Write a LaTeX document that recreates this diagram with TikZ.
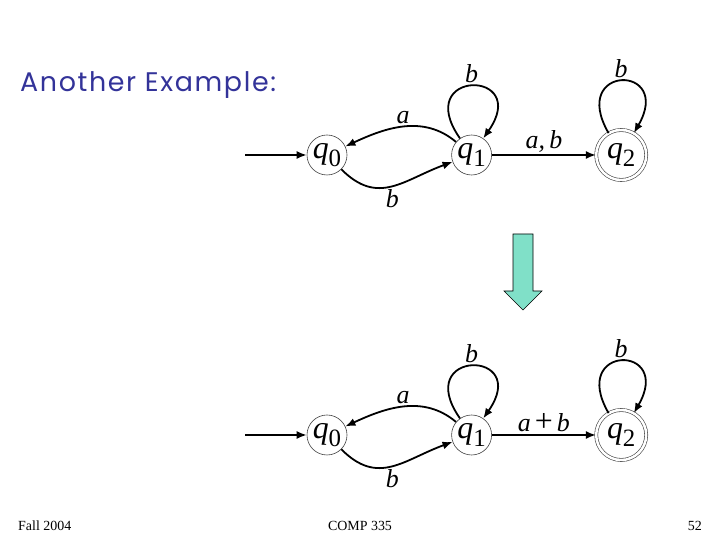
\documentclass[tikz,border=0pt]{standalone}
\usepackage{fontspec}
\setmainfont{Liberation Serif}
\newfontfamily\titlefont[LetterSpace=6]{Poppins}
\usepackage{xcolor}
\usepackage{tikz}
\usetikzlibrary{arrows.meta,positioning}
\definecolor{titleblue}{HTML}{333399}
\definecolor{arrowgreen}{HTML}{80E0C8}
\newcommand{\stq}[1]{\textit{q}\raisebox{-8bp}{\fontsize{25}{25}\selectfont #1}}
\tikzset{
  stt/.style={circle, draw=black!75, line width=.6bp, minimum size=40bp, inner sep=0pt, font=\fontsize{32}{34}\selectfont},
  acc/.style={stt, double, double distance=2.5bp, minimum size=50bp},
  ar/.style={-{Latex[length=10bp,width=8bp]}, line width=1.8bp},
  lbl/.style={font=\fontsize{26}{28}\selectfont\itshape, inner sep=2bp},
  foot/.style={font=\fontsize{14}{15}\selectfont, inner sep=0pt},
}
\begin{document}
\begin{tikzpicture}[x=1bp, y=1bp, node distance=104bp]
    \useasboundingbox (0,0) rectangle (720,540);
    \node[anchor=base west, inner sep=0pt, text=titleblue, font=\titlefont\fontsize{27}{29}\selectfont] (title) at (20,448) {Another Example:};
    % before
    \node[stt] (q0) at (327,385) {\stq{0}};
    \node[stt, right=of q0] (q1) {\stq{1}};
    \node[acc, right=of q1] (q2) {\stq{2}};
    \coordinate (s0) at (245,385);
    \draw[ar] (s0) -- (q0);
    \draw[ar] (q1) to[out=140, in=25] node[lbl, above] {a} (q0);
    \draw[ar] (q0) to[out=-45, in=-160, looseness=1.2] node[lbl, below] {b} (q1);
    \draw[ar] (q1) to[out=125, in=55, distance=85bp] node[lbl, above] {b} (q1);
    \draw[ar] (q1) -- node[lbl, above] {a,\,b} (q2);
    \draw[ar] (q2) to[out=120, in=60, distance=80bp] node[lbl, above] {b} (q2);
    % arrow down
    \draw[line width=.6bp, fill=arrowgreen] (513,306) -- (533,306) -- (533,249) -- (542,249) -- (523,230) -- (504,249) -- (513,249) -- cycle;
    % after
    \node[stt] (r0) at (327,105) {\stq{0}};
    \node[stt, right=of r0] (r1) {\stq{1}};
    \node[acc, right=of r1] (r2) {\stq{2}};
    \coordinate (s1) at (245,105);
    \draw[ar] (s1) -- (r0);
    \draw[ar] (r1) to[out=140, in=25] node[lbl, above] {a} (r0);
    \draw[ar] (r0) to[out=-45, in=-160, looseness=1.2] node[lbl, below] {b} (r1);
    \draw[ar] (r1) to[out=125, in=55, distance=85bp] node[lbl, above] {b} (r1);
    \draw[ar] (r1) -- node[lbl, above] {a\hspace{4bp}{\upshape\fontsize{32}{32}\selectfont +}\hspace{4bp}b} (r2);
    \draw[ar] (r2) to[out=120, in=60, distance=80bp] node[lbl, above] {b} (r2);
    % footer
    \node[foot, anchor=base west] (fall) at (18,9) {Fall 2004};
    \node[foot, anchor=base] (course) at (360,9) {COMP 335};
    \node[foot, anchor=base east] (page) at (702,9) {52};
\end{tikzpicture}
\end{document}
